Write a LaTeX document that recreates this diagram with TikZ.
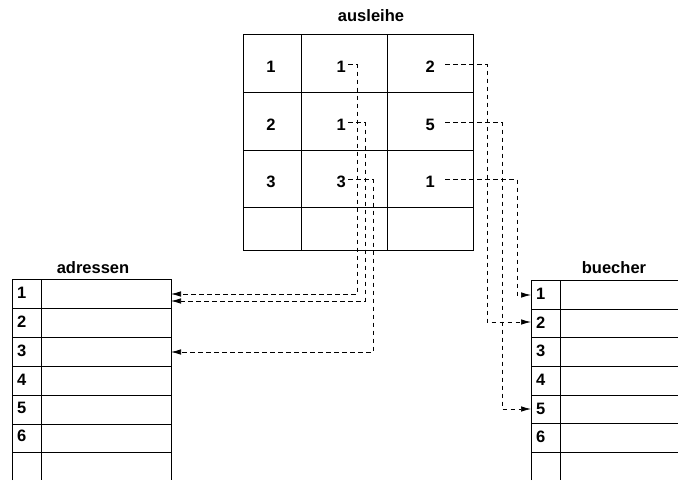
\documentclass[tikz,border=0pt]{standalone}
\usepackage{fontspec}
\setmainfont{Liberation Sans}
\usetikzlibrary{arrows.meta,calc}
\begin{document}
\begin{tikzpicture}[x=1pt,y=-1pt,
  grid/.style={line width=0.8pt},
  link/.style={dash pattern=on 4.5pt off 3.5pt, line width=0.7pt},
  arr/.style={-{Latex[length=10pt,width=5.5pt]}},
  lbl/.style={font=\fontsize{16.5}{20}\selectfont\bfseries, inner sep=0pt},
  num/.style={lbl, text height=12pt, text depth=0pt},
]
\useasboundingbox (0,0) rectangle (678,480);

% ---------- ausleihe ----------
\node[lbl, anchor=base] (tA) at (371,21) {ausleihe};
\draw[grid] (243,34) rectangle (473,250);
\draw[grid] (301,34) -- (301,250) (387,34) -- (387,250)
            (243,92) -- (473,92) (243,150) -- (473,150) (243,207) -- (473,207);
\node[num, anchor=base] (a11) at (271,72) {1};
\node[num, anchor=base] (a21) at (271,130) {2};
\node[num, anchor=base] (a31) at (271,187) {3};
\node[num, anchor=base east] (a12) at (346,72) {1};
\node[num, anchor=base east] (a22) at (346,130) {1};
\node[num, anchor=base east] (a32) at (346,187) {3};
\node[num, anchor=base east] (a13) at (435,72) {2};
\node[num, anchor=base east] (a23) at (435,130) {5};
\node[num, anchor=base east] (a33) at (435,187) {1};

% ---------- adressen ----------
\node[lbl, anchor=base] (tB) at (93,273) {adressen};
\draw[grid] (12,480) -- (12,279) -- (171,279) -- (171,480) (41,279) -- (41,480);
\foreach \y in {308,337,366,395,424,452} \draw[grid] (12,\y) -- (171,\y);
\foreach \n/\y in {1/298,2/327,3/356,4/385,5/413,6/441}
  \node[num, anchor=base west] (ad\n) at (17,\y) {\n};

% ---------- buecher ----------
\node[lbl, anchor=base] (tC) at (614,273) {buecher};
\draw[grid] (531,480) -- (531,280) -- (678,280) (560,280) -- (560,480);
\foreach \y in {309,337,366,395,423,452} \draw[grid] (531,\y) -- (678,\y);
\foreach \n/\y in {1/299,2/328,3/356,4/385,5/414,6/442}
  \node[num, anchor=base west] (bu\n) at (536,\y) {\n};

% ---------- connector ends ----------
\coordinate (p12) at ([xshift=2pt,yshift=1.5pt]a12.east);
\coordinate (p22) at ([xshift=2pt,yshift=1.5pt]a22.east);
\coordinate (p32) at ([xshift=2pt,yshift=1.5pt]a32.east);
\coordinate (p13) at ([xshift=10pt,yshift=1.5pt]a13.east);
\coordinate (p23) at ([xshift=10pt,yshift=1.5pt]a23.east);
\coordinate (p33) at ([xshift=10pt,yshift=1.5pt]a33.east);
\coordinate (L1) at (357,0);
\coordinate (L2) at (365,0);
\coordinate (L3) at (373,0);
\coordinate (R1) at (487,0);
\coordinate (R2) at (502,0);
\coordinate (R3) at (517,0);
\coordinate (ta1) at (171,294);
\coordinate (ta2) at (171,301);
\coordinate (ta3) at (171,352);
\coordinate (tb1) at (531,295);
\coordinate (tb2) at (531,322);
\coordinate (tb5) at (531,409);

% ---------- connectors ----------
\draw[link,arr] (p12) -- (p12 -| L1) |- (ta1);
\draw[link,arr] (p22) -- (p22 -| L2) |- (ta2);
\draw[link,arr] (p32) -- (p32 -| L3) |- (ta3);
\draw[link,arr] (p13) -- (p13 -| R1) |- (tb2);
\draw[link,arr] (p23) -- (p23 -| R2) |- (tb5);
\draw[link,arr] (p33) -- (p33 -| R3) |- (tb1);
\end{tikzpicture}
\end{document}
